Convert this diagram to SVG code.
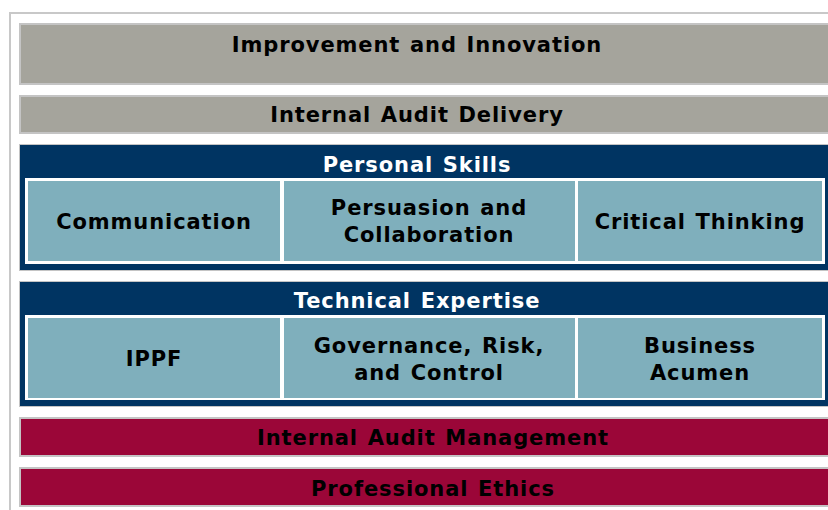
<svg xmlns="http://www.w3.org/2000/svg" width="828" height="510" viewBox="0 0 828 510">
<style>
.t{font-family:"DejaVu Sans",Verdana,sans-serif;font-weight:bold;font-size:21px;letter-spacing:0.9px;word-spacing:1.5px;text-anchor:middle;fill:#000}
.w{fill:#fff}
.gray{fill:#a5a49c;stroke:#c4c4c4;stroke-width:2}
.red{fill:#9b0638;stroke:#c4c4c4;stroke-width:2}
.blue{fill:#003462;stroke:#c4c4c4;stroke-width:1}
.cell{fill:#7fafbc}
</style>
<rect width="828" height="510" fill="#fff"/>
<path d="M10 510V13H828" fill="none" stroke="#c8c8c8" stroke-width="2"/>
<g id="improvement">
<rect class="gray" x="20" y="24" width="830" height="60"/>
<text class="t" x="417" y="52">Improvement and Innovation</text>
</g>
<g id="delivery">
<rect class="gray" x="20" y="96" width="830" height="37"/>
<text class="t" x="417" y="122">Internal Audit Delivery</text>
</g>
<g id="personal-skills">
<rect class="blue" x="19.5" y="144.5" width="830" height="126"/>
<text class="t w" x="417" y="172">Personal Skills</text>
<rect fill="#fff" x="25" y="178" width="800" height="86"/>
</g>
<g id="communication">
<rect class="cell" x="28" y="181" width="252" height="80"/>
<text class="t" x="154" y="229">Communication</text>
</g>
<g id="persuasion">
<rect class="cell" x="284" y="181" width="291" height="80"/>
<text class="t" x="429" y="215">Persuasion and</text>
<text class="t" x="429" y="242">Collaboration</text>
</g>
<g id="critical-thinking">
<rect class="cell" x="578" y="181" width="244" height="80"/>
<text class="t" x="700" y="229">Critical Thinking</text>
</g>
<g id="technical-expertise">
<rect class="blue" x="19.5" y="281.5" width="830" height="125"/>
<text class="t w" x="417" y="308">Technical Expertise</text>
<rect fill="#fff" x="25" y="315" width="800" height="85"/>
</g>
<g id="ippf">
<rect class="cell" x="28" y="318" width="252" height="80"/>
<text class="t" x="154" y="366">IPPF</text>
</g>
<g id="governance">
<rect class="cell" x="284" y="318" width="291" height="80"/>
<text class="t" x="429" y="353">Governance, Risk,</text>
<text class="t" x="429" y="380">and Control</text>
</g>
<g id="business-acumen">
<rect class="cell" x="578" y="318" width="244" height="80"/>
<text class="t" x="700" y="353">Business</text>
<text class="t" x="700" y="380">Acumen</text>
</g>
<g id="management">
<rect class="red" x="20" y="418" width="830" height="38"/>
<text class="t" x="433" y="445">Internal Audit Management</text>
</g>
<g id="ethics">
<rect class="red" x="20" y="468" width="830" height="38"/>
<text class="t" x="433" y="496">Professional Ethics</text>
</g>
<g id="connectors"></g>
</svg>
